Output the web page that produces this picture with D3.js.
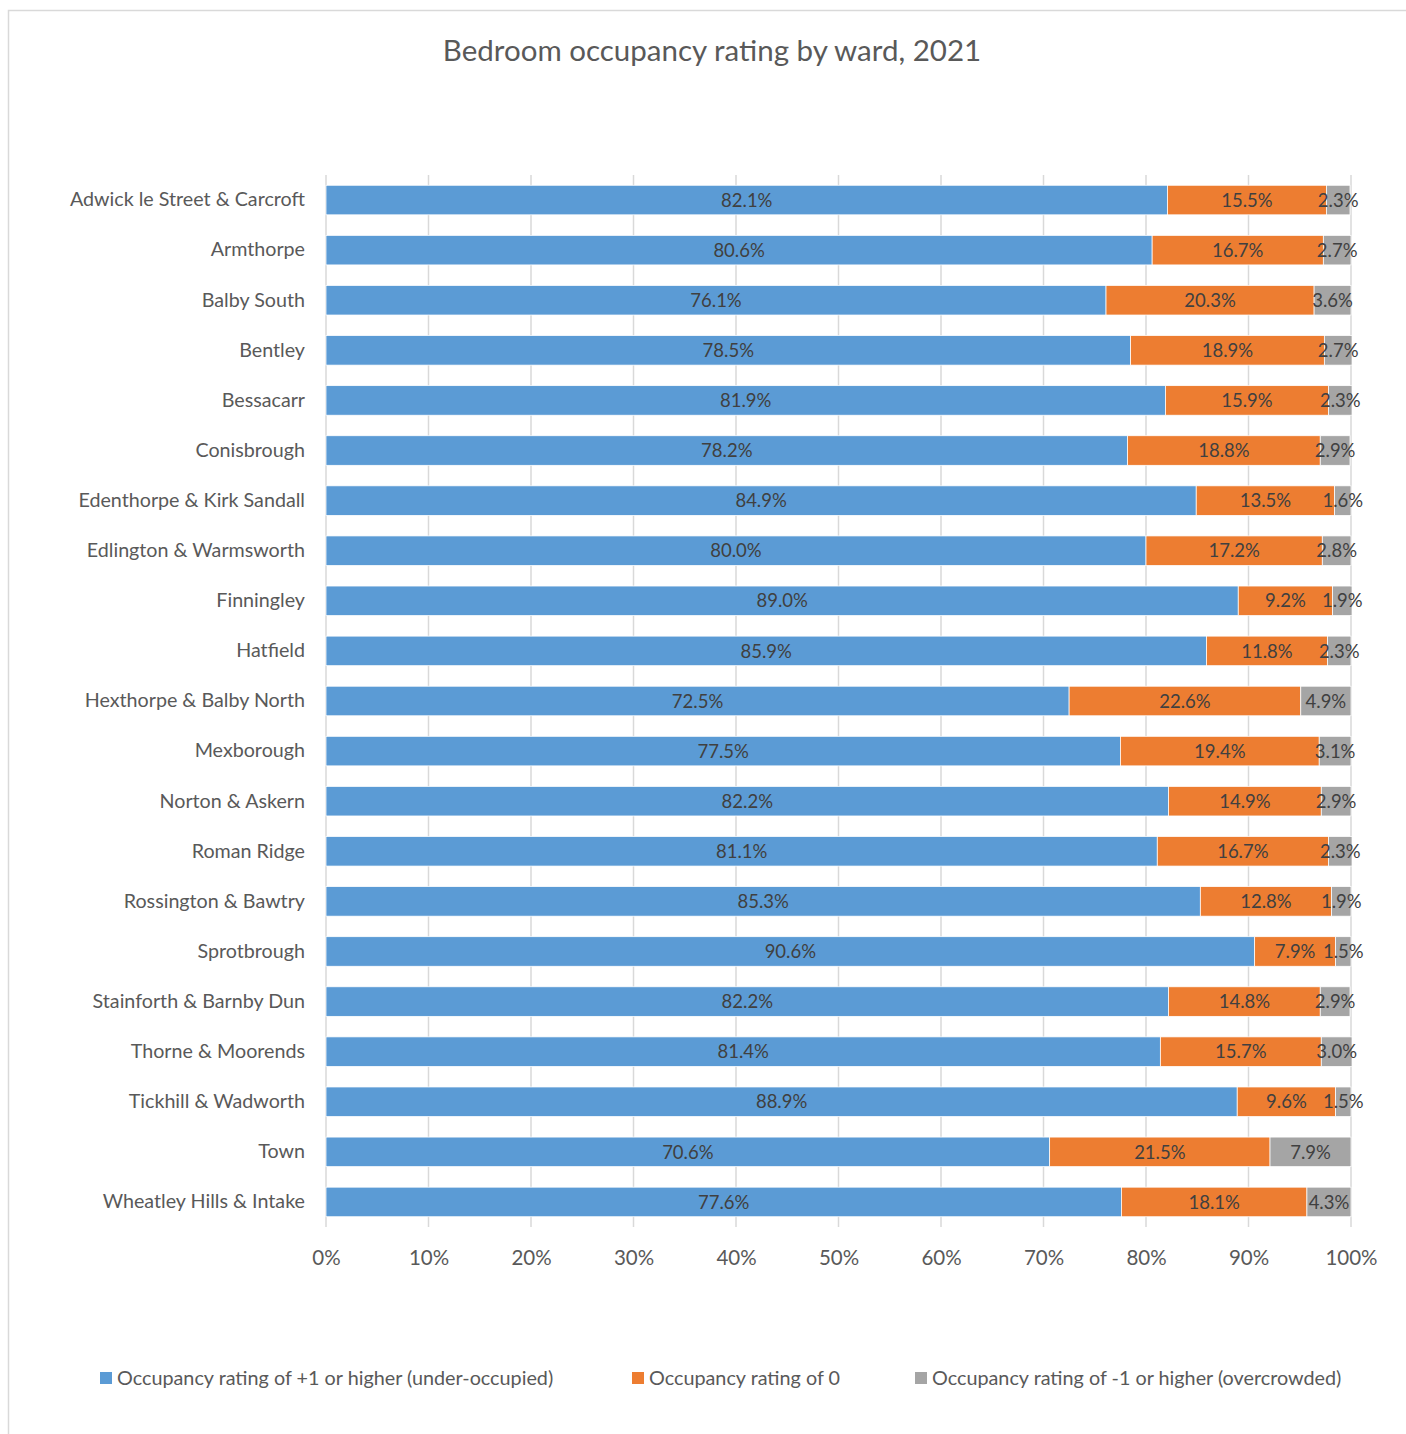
<!DOCTYPE html>
<html>
<head>
<meta charset="utf-8">
<script src="https://cdn.jsdelivr.net/npm/d3@7"></script>
<style>
  body { margin: 0; background: #fff; }
  svg { display: block; font-family: Lato, "Open Sans", sans-serif; }
</style>
</head>
<body>
<div id="chart"></div>
<script>
// Data
const wards = [
  "Adwick le Street & Carcroft", "Armthorpe", "Balby South", "Bentley", "Bessacarr",
  "Conisbrough", "Edenthorpe & Kirk Sandall", "Edlington & Warmsworth", "Finningley",
  "Hatfield", "Hexthorpe & Balby North", "Mexborough", "Norton & Askern", "Roman Ridge",
  "Rossington & Bawtry", "Sprotbrough", "Stainforth & Barnby Dun", "Thorne & Moorends",
  "Tickhill & Wadworth", "Town", "Wheatley Hills & Intake"
];
const underOccupied = [82.1, 80.6, 76.1, 78.5, 81.9, 78.2, 84.9, 80.0, 89.0, 85.9, 72.5, 77.5, 82.2, 81.1, 85.3, 90.6, 82.2, 81.4, 88.9, 70.6, 77.6];
const ratingZero    = [15.5, 16.7, 20.3, 18.9, 15.9, 18.8, 13.5, 17.2, 9.2, 11.8, 22.6, 19.4, 14.9, 16.7, 12.8, 7.9, 14.8, 15.7, 9.6, 21.5, 18.1];
const overcrowded   = [2.3, 2.7, 3.6, 2.7, 2.3, 2.9, 1.6, 2.8, 1.9, 2.3, 4.9, 3.1, 2.9, 2.3, 1.9, 1.5, 2.9, 3.0, 1.5, 7.9, 4.3];
const seriesNames = [
  "Occupancy rating of +1 or higher (under-occupied)",
  "Occupancy rating of 0",
  "Occupancy rating of -1 or higher (overcrowded)"
];
const xTicks = [0, 10, 20, 30, 40, 50, 60, 70, 80, 90, 100];

// Layout
const W = 1406, H = 1434;
const plotLeft = 326, plotRight = 1351, plotTop = 175, plotBottom = 1227;
const colors = ["#5B9BD5", "#ED7D31", "#A5A5A5"];

const svg = d3.select("#chart").append("svg")
  .attr("width", W).attr("height", H);

// chart border
svg.append("rect")
  .attr("x", 8.5).attr("y", 10.5)
  .attr("width", W + 10).attr("height", H + 10)
  .attr("fill", "none").attr("stroke", "#D9D9D9").attr("stroke-width", 1.5);

svg.append("text")
  .attr("x", 712).attr("y", 61)
  .attr("text-anchor", "middle")
  .attr("font-size", 29.5).attr("fill", "#595959")
  .text("Bedroom occupancy rating by ward, 2021");

const x = d3.scaleLinear().domain([0, 100]).range([plotLeft, plotRight]);
const y = d3.scaleBand().domain(wards).range([plotTop, plotBottom]).paddingInner(0.41).paddingOuter(0.205);

// gridlines
svg.append("g").selectAll("line").data(xTicks).join("line")
  .attr("x1", d => x(d)).attr("x2", d => x(d))
  .attr("y1", plotTop).attr("y2", plotBottom)
  .attr("stroke", "#D9D9D9").attr("stroke-width", 1.5);

// stacked bars
const rows = wards.map((w, i) => ({ ward: w, s0: underOccupied[i], s1: ratingZero[i], s2: overcrowded[i] }));
const stack = d3.stack().keys(["s0", "s1", "s2"])(rows);

stack.forEach((layer, k) => {
  svg.append("g").selectAll("rect").data(layer).join("rect")
    .attr("x", d => x(d[0]))
    .attr("y", d => y(d.data.ward))
    .attr("width", d => x(d[1]) - x(d[0]))
    .attr("height", y.bandwidth())
    .attr("fill", colors[k])
    .attr("stroke", "#fff").attr("stroke-width", 0.75);
});
stack.forEach((layer, k) => {
  svg.append("g").selectAll("text").data(layer).join("text")
    .attr("x", d => (x(d[0]) + x(d[1])) / 2)
    .attr("y", d => y(d.data.ward) + y.bandwidth() / 2)
    .attr("dy", "0.36em")
    .attr("text-anchor", "middle")
    .attr("font-size", 18.5).attr("fill", "#404040")
    .text(d => (d[1] - d[0]).toFixed(1) + "%");
});

// category axis
const yAxis = svg.append("g")
  .attr("transform", `translate(${plotLeft},0)`)
  .call(d3.axisLeft(y).tickSize(0).tickPadding(21));
yAxis.select(".domain").remove();
yAxis.selectAll("text")
  .attr("font-size", 19.7).attr("fill", "#595959")
  .attr("font-family", "Lato, 'Open Sans', sans-serif");

// value axis
const xAxis = svg.append("g")
  .attr("transform", `translate(0,${plotBottom})`)
  .call(d3.axisBottom(x).tickValues(xTicks).tickFormat(d => d + "%").tickSize(0).tickPadding(23));
xAxis.select(".domain").remove();
xAxis.selectAll("text")
  .attr("font-size", 20.5).attr("fill", "#595959")
  .attr("font-family", "Lato, 'Open Sans', sans-serif");

// legend
const legendX = [100, 632, 915];
const legend = svg.append("g").selectAll("g").data(seriesNames).join("g")
  .attr("transform", (d, i) => `translate(${legendX[i]},1378)`);
legend.append("rect")
  .attr("x", 0).attr("y", -6).attr("width", 12).attr("height", 12)
  .attr("fill", (d, i) => colors[i]);
legend.append("text")
  .attr("x", 17).attr("dy", "0.36em")
  .attr("font-size", 19.8).attr("fill", "#595959")
  .text(d => d);
</script>
</body>
</html>
